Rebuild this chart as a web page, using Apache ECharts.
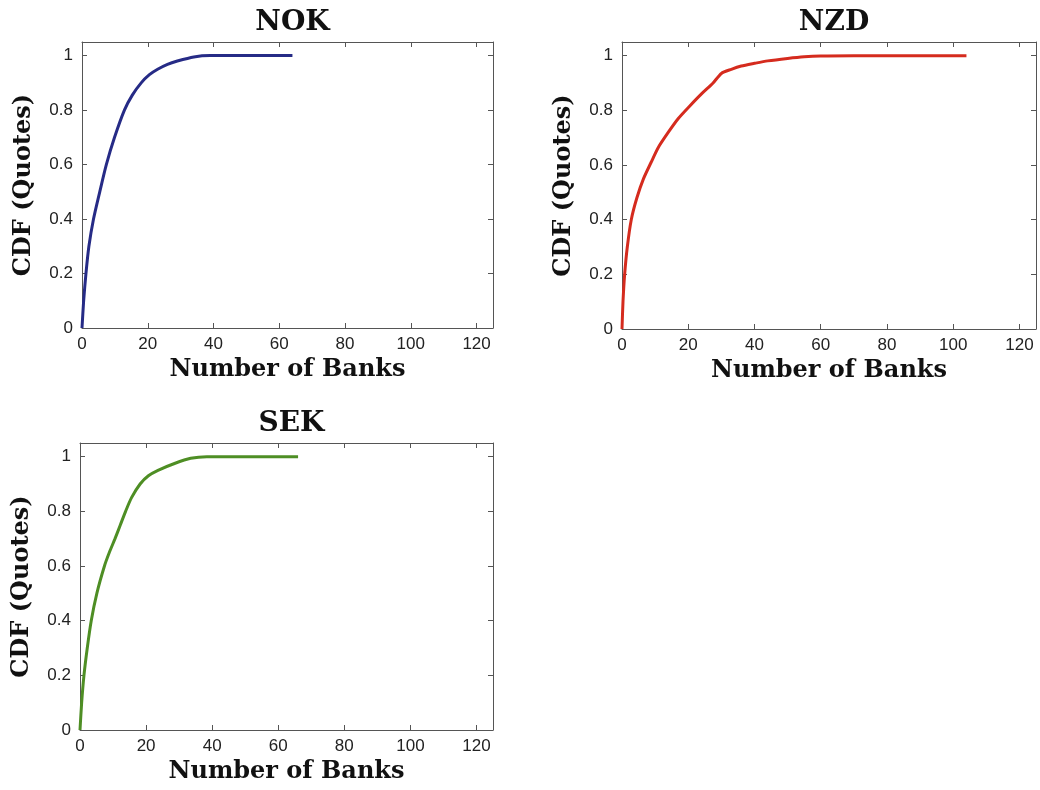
<!DOCTYPE html>
<html><head><meta charset="utf-8">
<script src="https://cdn.jsdelivr.net/npm/echarts@6/dist/echarts.min.js"></script>
<style>html,body{margin:0;padding:0;background:#fff}#c{width:1040px;height:790px}</style>
</head><body><div id="c"></div>
<script>
const titles = ['NOK', 'NZD', 'SEK'];
const xName = 'Number of Banks';
const yName = 'CDF (Quotes)';
const xTicks = [0, 20, 40, 60, 80, 100, 120];
const yTicks = [0, 0.2, 0.4, 0.6, 0.8, 1];
const nokX = [0, 0.5, 1.2, 2.1, 3.5, 5.4, 7.4, 9.9, 12.9, 15.3, 18, 20.5, 23, 26, 29, 34, 39, 50, 64];
const nokY = [0, 0.1, 0.2, 0.3, 0.4, 0.5, 0.6, 0.7, 0.8, 0.855, 0.9, 0.93, 0.95, 0.968, 0.98, 0.995, 1, 1, 1];
const nzdX = [0, 0.3, 0.8, 1.6, 2.8, 4.5, 6.5, 8.8, 11, 14, 17, 20.4, 24, 27.5, 30, 33, 36, 40, 44, 50, 55, 60, 70, 104];
const nzdY = [0, 0.1, 0.2, 0.3, 0.4, 0.48, 0.55, 0.61, 0.665, 0.72, 0.77, 0.815, 0.86, 0.9, 0.935, 0.95, 0.962, 0.972, 0.981, 0.99, 0.996, 0.999, 1, 1];
const sekX = [0, 0.5, 1.2, 2.2, 3.4, 5.1, 7.4, 8.9, 10.6, 12.2, 13.8, 15.6, 18.2, 20.7, 23.6, 28.6, 33.5, 38.4, 50, 66];
const sekY = [0, 0.1, 0.2, 0.3, 0.4, 0.5, 0.6, 0.65, 0.7, 0.75, 0.8, 0.85, 0.9, 0.93, 0.95, 0.975, 0.994, 1, 1, 1];
const colors = ['#262b86', '#d52b1e', '#4e8e24'];
const seriesX = [nokX, nzdX, sekX];
const seriesY = [nokY, nzdY, sekY];

const grids = [
  {left: 82, top: 42, width: 411, height: 286},
  {left: 622, top: 42, width: 414, height: 287},
  {left: 80, top: 443, width: 413, height: 287}
];
const serif = '"DejaVu Serif", serif';
const sans = '"Liberation Sans", Arial, sans-serif';
const axisCol = '#555';

const option = {
  animation: false,
  backgroundColor: '#fff',
  title: grids.map((g, i) => ({
    text: titles[i],
    left: g.left + g.width / 2,
    top: g.top - 38,
    textAlign: 'center',
    textStyle: {fontFamily: serif, fontWeight: 'bold', fontSize: 28, color: '#111'}
  })),
  grid: grids.map(g => Object.assign({containLabel: false}, g)),
  xAxis: [], yAxis: [], series: []
};
grids.forEach((g, i) => {
  option.xAxis.push({
    type: 'value', gridIndex: i, min: 0, max: 125, interval: 20,
    name: xName, nameLocation: 'middle', nameGap: 30,
    nameTextStyle: {fontFamily: serif, fontWeight: 'bold', fontSize: 24, color: '#111'},
    axisLine: {show: true, onZero: false, lineStyle: {color: axisCol, width: 1}},
    axisTick: {show: true, inside: true, length: 5, lineStyle: {color: axisCol}},
    axisLabel: {fontFamily: sans, fontSize: 17, color: '#222', margin: 8,
      formatter: v => xTicks.includes(v) ? String(v) : ''},
    splitLine: {show: false}
  });
  option.xAxis.push({
    type: 'value', gridIndex: i, min: 0, max: 125, interval: 20, position: 'top',
    axisLine: {show: true, onZero: false, lineStyle: {color: axisCol, width: 1}},
    axisTick: {show: true, inside: true, length: 5, lineStyle: {color: axisCol}},
    axisLabel: {show: false}, splitLine: {show: false}
  });
  option.yAxis.push({
    type: 'value', gridIndex: i, min: 0, max: 1.05, interval: 0.2,
    name: yName, nameLocation: 'middle', nameGap: 46,
    nameTextStyle: {fontFamily: serif, fontWeight: 'bold', fontSize: 24, color: '#111'},
    axisLine: {show: true, onZero: false, lineStyle: {color: axisCol, width: 1}},
    axisTick: {show: true, inside: true, length: 5, lineStyle: {color: axisCol}},
    axisLabel: {fontFamily: sans, fontSize: 17, color: '#222', margin: 9, showMaxLabel: true,
      formatter: v => { const r = Math.round(v * 10) / 10; return yTicks.some(t => Math.abs(t - v) < 1e-6) ? String(r) : ''; }},
    splitLine: {show: false}
  });
  option.yAxis.push({
    type: 'value', gridIndex: i, min: 0, max: 1.05, interval: 0.2, position: 'right',
    axisLine: {show: true, onZero: false, lineStyle: {color: axisCol, width: 1}},
    axisTick: {show: true, inside: true, length: 5, lineStyle: {color: axisCol}},
    axisLabel: {show: false}, splitLine: {show: false}
  });
  option.series.push({
    type: 'line', xAxisIndex: 2 * i, yAxisIndex: 2 * i,
    data: seriesX[i].map((x, k) => [x, seriesY[i][k]]),
    smooth: 0.25, showSymbol: false, symbol: 'none',
    lineStyle: {color: colors[i], width: 3}
  });
});
const chart = echarts.init(document.getElementById('c'), null, {renderer: 'canvas'});
chart.setOption(option);
</script></body></html>
